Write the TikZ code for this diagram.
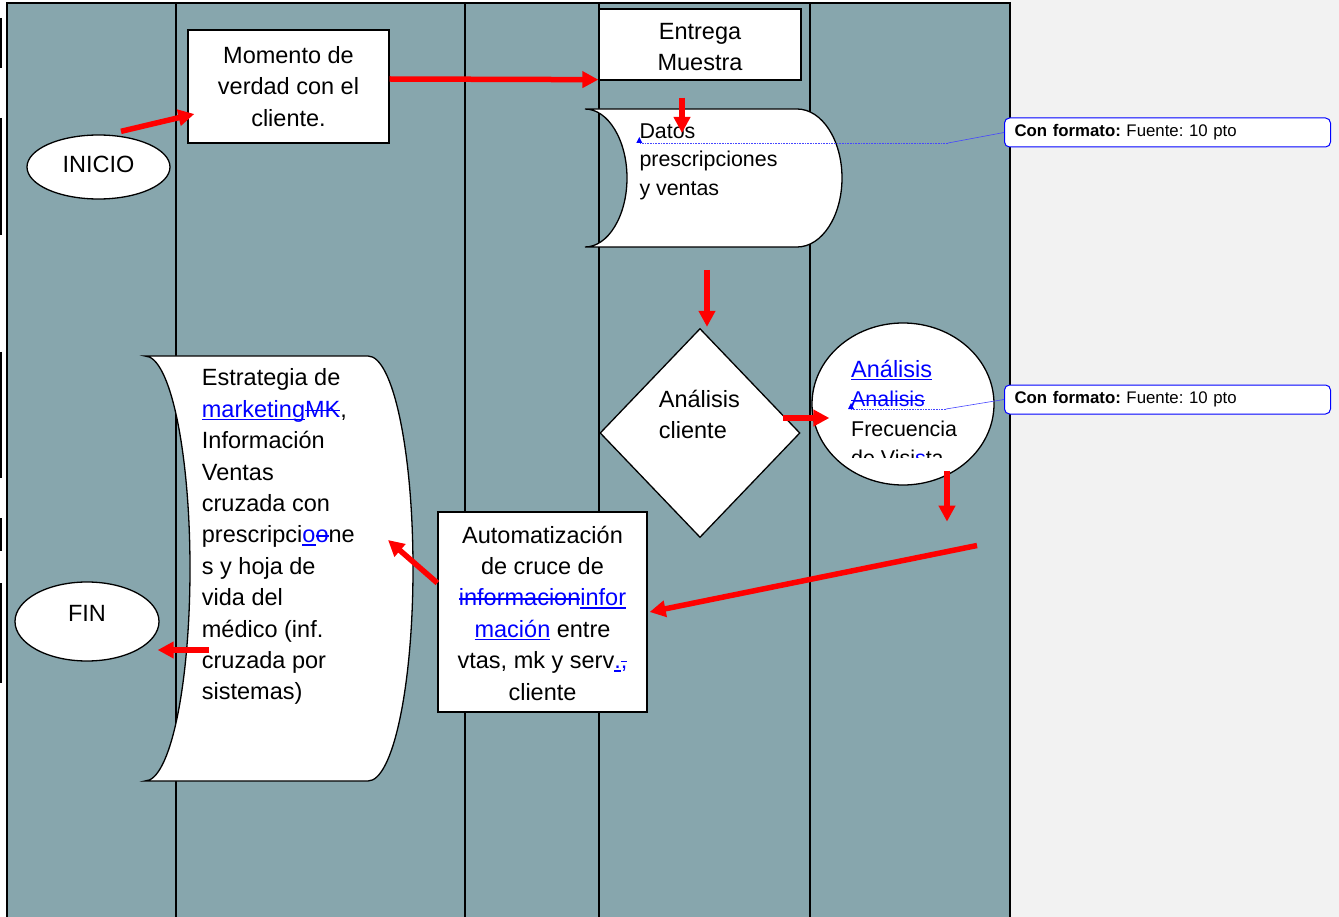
\documentclass[tikz,border=0pt]{standalone}
\usepackage{fontspec}
\setmainfont{Liberation Sans}
\usetikzlibrary{shapes.geometric,arrows.meta}
\frenchspacing

\definecolor{lane}{RGB}{135,166,173}
\definecolor{pagegrey}{RGB}{242,242,242}
\definecolor{revblue}{RGB}{0,0,255}
\definecolor{linkblue}{RGB}{70,70,255}

% tracked changes: inserted (underlined) and deleted (struck) text
\newsavebox{\revbox}
\newcommand{\revins}[1]{{\color{revblue}\sbox{\revbox}{#1}\rlap{\rule[-0.12em]{\wd\revbox}{1.3pt}}\usebox{\revbox}}}
\newcommand{\revdel}[1]{{\color{revblue}\sbox{\revbox}{#1}\rlap{\rule[0.27em]{\wd\revbox}{1.3pt}}\usebox{\revbox}}}
% fixes the top of a text block 24pt above its first baseline
\newcommand{\tallstrut}{\rule{0pt}{24pt}}

\begin{document}
\begin{tikzpicture}[x=1pt,y=-1pt,
  figbox/.style={draw=black, line width=1.3pt, fill=white},
  txt/.style={font=\fontsize{23.5}{31.4}\selectfont, inner sep=0pt},
  smalltxt/.style={font=\fontsize{21.4}{29.5}\selectfont, inner sep=0pt},
  flow/.style={draw=red, line width=5.5pt, -{Triangle[length=16pt,width=16pt]}},
  note/.style={draw=revblue, line width=1pt, rounded corners=5pt, fill=white,
    text width=306pt, inner xsep=10pt, inner ysep=0pt, minimum height=29pt,
    align=left, font=\fontsize{16.8}{19}\selectfont},
  notelink/.style={draw=linkblue, line width=0.6pt},
]
\useasboundingbox (0,0) rectangle (1339,917);

% page and swimlanes
\fill[white] (0,0) rectangle (1339,917);
\fill[pagegrey] (1010,0) rectangle (1339,917);
\fill[lane] (7,3) rectangle (1010,917);
\draw[line width=2pt] (7,917) -- (7,3) -- (1010,3) -- (1010,917);
\foreach \x in {176,465,599,810} \draw[line width=2pt] (\x,3) -- (\x,917);

% change bars in the margin
\foreach \a/\b in {18/68,118/235,352/478,518/551,583/683}
  \draw[line width=1.5pt] (1,\a) -- (1,\b);

% start and end
\node[figbox, ellipse, minimum width=143pt, minimum height=64pt, txt, text depth=5.1pt] (inicio) at (98.5,167) {INICIO};
\node[figbox, ellipse, minimum width=144pt, minimum height=79pt, txt, text depth=16.5pt] (fin) at (87,621.5) {FIN};

% process boxes
\node[figbox, rectangle, minimum width=201pt, minimum height=113pt, align=center, txt] (momento) at (288.5,86.5)
  {Momento de\\verdad con el\\cliente.};
\node[figbox, rectangle, minimum width=202pt, minimum height=71pt, align=center, txt] (entrega) at (700,44.5)
  {\rule{0pt}{21pt}Entrega\\Muestra};
\node[figbox, rectangle, minimum width=209pt, minimum height=200pt, align=center, txt] (auto) at (542.5,612)
  {\rule{0pt}{19.5pt}Automatización\\de cruce de\\\revdel{informacion}\revins{infor}\\\revins{mación} entre\\vtas, mk y serv\revins{.}\revdel{,}\\cliente};

% stored data: prescriptions and sales
\path[figbox] (585,109) -- (797,109)
  .. controls (822,109) and (842,140) .. (842,178)
  .. controls (842,216) and (822,247) .. (797,247) -- (585,247)
  .. controls (608,247) and (627,216) .. (627,178)
  .. controls (627,140) and (608,109) .. (585,109) -- cycle;
\coordinate (datos) at (712,178);
\node[inner sep=0pt, font=\fontsize{21.4}{28.5}\selectfont, anchor=north west, align=left] (datostxt) at (639.3,114.3)
  {\tallstrut Datos\\prescripciones\\y ventas};

% decision
\node[figbox, diamond, minimum width=200pt, minimum height=209pt, inner sep=0pt] (decision) at (700,433) {};
\node[txt, anchor=north west, align=left] (decisiontxt) at (658.7,383.3) {\tallstrut Análisis\\cliente};

% analysis ellipse, its text cut off at the bottom
\node[figbox, ellipse, minimum width=182pt, minimum height=162pt, inner sep=0pt] (analisis) at (903,404) {};
\begin{scope}
  \clip (815,330) rectangle (995,457);
  \node[smalltxt, anchor=north west, align=left] (analisistxt) at (851,353)
    {\tallstrut{\fontsize{23.5}{29.5}\selectfont\revins{Análisis}}\\\revdel{Analisis}\\Frecuencia\\de Visi{\color{revblue}s}ta};
\end{scope}

% marketing strategy document
\path[figbox] (145,356) -- (368,356)
  .. controls (393,356) and (413,451) .. (413,568.5)
  .. controls (413,686) and (393,781) .. (368,781) -- (145,781)
  .. controls (170,781) and (190,686) .. (190,568.5)
  .. controls (190,451) and (170,356) .. (145,356) -- cycle;
\coordinate (estrategia) at (279,568.5);
\node[txt, anchor=north west, align=left] (estrategiatxt) at (201.7,361.7)
  {\tallstrut Estrategia de\\\revins{marketing}\revdel{MK},\\Información\\Ventas\\cruzada con\\prescripci\revins{o}\revdel{o}ne\\s y hoja de\\vida del\\médico (inf.\\cruzada por\\sistemas)};

% flow arrows
\draw[flow] ([shift={(22.5,-3)}]inicio.north) -- ([shift={(7,27.5)}]momento.west);
\draw[flow] ([shift={(0,-7.5)}]momento.east) -- ([shift={(0,-1)}]entrega.south west);
\draw[flow] ([shift={(-18,17)}]entrega.south) -- ([shift={(-30,-45)}]datos);
\draw[flow] ([shift={(-5,92)}]datos) -- ([shift={(7,-1)}]decision.north);
\draw[flow] ([shift={(-18,-15)}]decision.east) -- ([shift={(18,14)}]analisis.west);
\draw[flow] ([shift={(44,-15)}]analisis.south) -- ([shift={(44,36)}]analisis.south);
\coordinate (return) at (977,545.5);
\draw[flow] (return) -- ([shift={(2,0)}]auto.east);
\draw[flow] ([shift={(0,-29)}]auto.west) -- ([shift={(109,-28.5)}]estrategia);
\draw[flow] ([shift={(-70,81.5)}]estrategia) -- ([shift={(-2,28.5)}]fin.east);

% format comments
\node[note, anchor=west] (note1) at (1004,132.5) {\textbf{Con formato:} Fuente: 10 pto};
\node[note, anchor=west] (note2) at (1004,399.5) {\textbf{Con formato:} Fuente: 10 pto};
\coordinate (bend1) at (948,143);
\coordinate (mark1) at (639.3,143);
\coordinate (bend2) at (946,409);
\coordinate (mark2) at (851,409);
\draw[notelink] (note1.west) -- (bend1);
\draw[notelink, densely dotted] (bend1) -- (mark1);
\draw[notelink] (note2.west) -- (bend2);
\draw[notelink, densely dotted] (bend2) -- (mark2);
\fill[revblue] (mark1) ++(-3,0) -- ++(6,0) -- ++(-3,-6) -- cycle;
\fill[revblue] (mark2) ++(-3,0) -- ++(6,0) -- ++(-3,-6) -- cycle;
\end{tikzpicture}
\end{document}
